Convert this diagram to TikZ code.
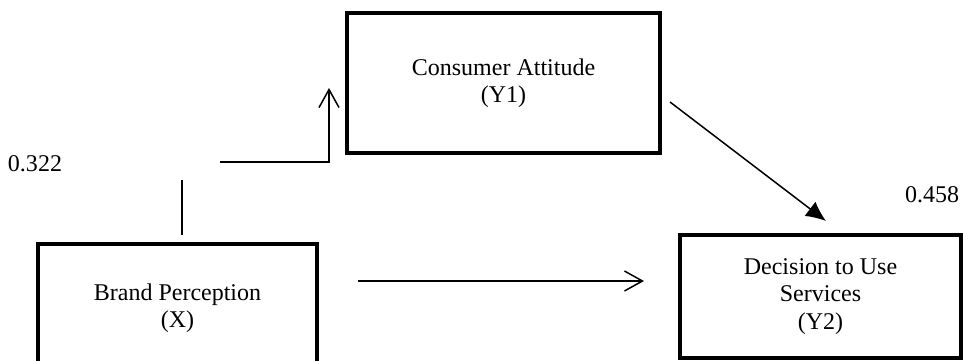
\documentclass[tikz,border=0pt]{standalone}
\usepackage{fontspec}
\setmainfont{Liberation Serif}
\usetikzlibrary{arrows.meta}
\begin{document}
\begin{tikzpicture}[x=0.5pt,y=-0.5pt,
  box/.style={draw, line width=2pt, rectangle, align=center, inner sep=0pt, font=\fontsize{12}{13.6}\selectfont},
  thin/.style={line width=0.75pt},
  open/.style={-{Straight Barb[length=9pt,width=10pt]}},
  lbl/.style={inner sep=0pt, font=\fontsize{12}{13.6}\selectfont}]
\useasboundingbox (0,0) rectangle (963,360);
\clip (0,0) rectangle (963,360);
\node[box, minimum width=279*0.5pt, minimum height=128*0.5pt] (bp) at (177.5,308) {Brand Perception\\(X)};
\node[box, minimum width=313*0.5pt, minimum height=140*0.5pt] (ca) at (503.5,83) {Consumer Attitude\\(Y1)};
\node[box, minimum width=281*0.5pt, minimum height=123*0.5pt] (du) at (820.5,296.5) {Decision to Use\\Services\\(Y2)};
\node[lbl] (l1) at (35,164) {0.322};
\node[lbl] (l2) at (932,195) {0.458};
\coordinate (v1) at (182,235);
\coordinate (v2) at (182,180);
\coordinate (h1) at (220,162);
\coordinate (h2) at (329,162);
\coordinate (h3) at (329,88);
\coordinate (d1) at (670,102);
\coordinate (d2) at (826,221);
\coordinate (r1) at (358,281);
\coordinate (r2) at (644,281);
\draw[thin] (v1) -- (v2);
\draw[thin, open] (h1) -- (h2) -- (h3);
\draw[thin, -{Latex[length=10pt,width=9pt]}] (d1) -- (d2);
\draw[thin, open] (r1) -- (r2);
\end{tikzpicture}
\end{document}
